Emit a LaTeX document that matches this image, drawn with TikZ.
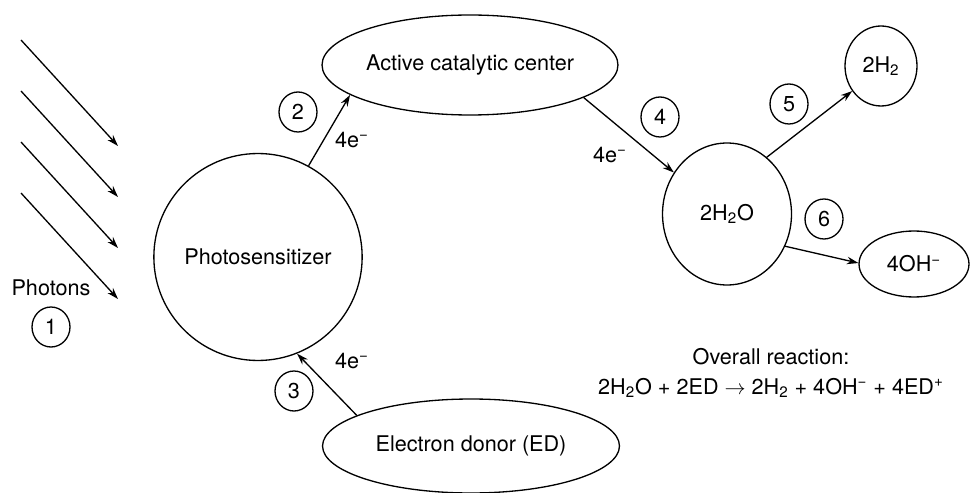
\documentclass[tikz,border=0pt]{standalone}
\usepackage{fontspec}
\setmainfont{TeX Gyre Heros}
\usetikzlibrary{arrows.meta,shapes.geometric}
\newcommand{\chsub}[1]{\textsubscript{#1}}
\newcommand{\chsup}[1]{\textsuperscript{#1}}

\begin{document}
\begin{tikzpicture}[
  x=0.02cm, y=-0.02cm,
  font=\fontsize{12.3}{14}\selectfont,
  blob/.style={ellipse, draw, line width=0.75pt, inner sep=0pt},
  num/.style={ellipse, draw, line width=0.75pt, inner sep=0pt,
    minimum width=0.76cm, minimum height=0.8cm},
  arr/.style={-{Stealth[length=2.3mm, width=1.5mm]}, line width=0.75pt},
  lbl/.style={inner sep=0pt},
]
\useasboundingbox (0,0) rectangle (976,493);

% species
\node[blob, minimum width=3.8cm, minimum height=4.14cm] (ps) at (258,257) {Photosensitizer};
\node[blob, minimum width=5.92cm, minimum height=2cm] (acc) at (470,65) {Active catalytic center};
\node[blob, minimum width=5.94cm, minimum height=1.88cm] (ed) at (471,446) {Electron donor (ED)};
\node[blob, minimum width=2.58cm, minimum height=2.84cm] (water) at (727,214) {2H\chsub{2}O};
\node[blob, minimum width=1.44cm, minimum height=1.6cm] (hyd) at (881,66) {2H\chsub{2}};
\node[blob, minimum width=2.2cm, minimum height=1.32cm] (hydrox) at (914,264) {4OH\chsup{−}};

% incoming photons
\foreach \i in {0,...,3}{
  \coordinate (ph\i-a) at (21,40+51*\i);
  \coordinate (ph\i-b) at (118,146+51*\i);
  \draw[arr] (ph\i-a) -- (ph\i-b);
}
\node[lbl] (photons) at (51,288) {Photons};

% electron transfer
\draw[arr] (ps.61) -- (acc.194);
\draw[arr] (ed.165) -- (ps.292);
\draw[arr] (acc.344) -- (water.142);
\draw[arr] (water.55) -- (hyd.221);
\draw[arr] (water.331) -- (hydrox.179);

\node[lbl] (e2) at (352,140) {4e\chsup{−}};
\node[lbl] (e3) at (352,361) {4e\chsup{−}};
\node[lbl] (e4) at (610,155) {4e\chsup{−}};

% step numbers
\node[num] (n1) at (51,327) {1};
\node[num] (n2) at (298,112) {2};
\node[num] (n3) at (294,391) {3};
\node[num] (n4) at (660,117) {4};
\node[num] (n5) at (789,104) {5};
\node[num] (n6) at (824,219) {6};

\node[align=center, font=\fontsize{12.3}{17}\selectfont] (overall) at (771,373)
  {Overall reaction:\\2H\chsub{2}O + 2ED $\rightarrow$ 2H\chsub{2} + 4OH\chsup{−} + 4ED\chsup{+}};
\end{tikzpicture}
\end{document}
